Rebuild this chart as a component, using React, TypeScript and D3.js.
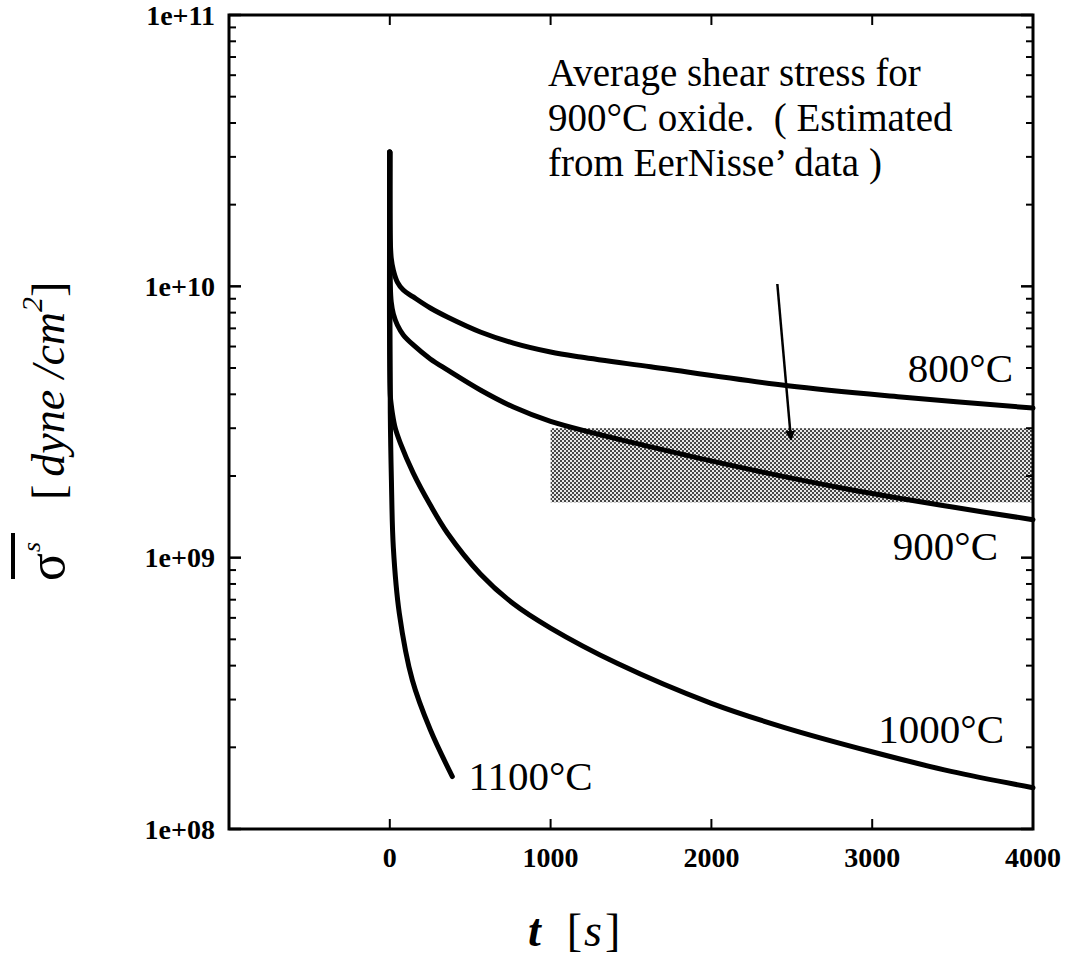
import React from "react";
import * as d3 from "d3";

// ---- data ----
const t800 = [0, 3, 9, 22, 47, 84, 146, 252, 358, 563, 769, 1000, 1187, 1622, 2475, 3179, 4000];
const v800 = [3.13e10, 1.48e10, 1.27e10, 1.148e10, 1.037e10, 9.69e9, 9.14e9, 8.32e9, 7.71e9, 6.79e9, 6.18e9, 5.73e9, 5.49e9, 5.05e9, 4.3e9, 3.91e9, 3.56e9];

const t900 = [0, 3, 9, 22, 47, 84, 146, 252, 358, 563, 769, 1000, 1622, 2245, 2867, 3490, 4000];
const v900 = [3.13e10, 1.011e10, 8.75e9, 7.91e9, 7.2e9, 6.62e9, 6.08e9, 5.4e9, 4.92e9, 4.15e9, 3.59e9, 3.18e9, 2.56e9, 2.11e9, 1.78e9, 1.54e9, 1.38e9];

const t1000 = [0, 3, 9, 16, 34, 65, 146, 252, 358, 563, 769, 1000, 1417, 1996, 2450, 2992, 3490, 4000];
const v1000 = [3.13e10, 3.98e9, 3.66e9, 3.41e9, 3.0e9, 2.65e9, 2.05e9, 1.563e9, 1.233e9, 8.71e8, 6.76e8, 5.5e8, 4.07e8, 2.91e8, 2.37e8, 1.93e8, 1.63e8, 1.42e8];

const t1100 = [0, 3, 10, 22, 59, 140, 252, 389];
const v1100 = [3.13e10, 3.41e9, 1.93e9, 1.09e9, 6.25e8, 3.54e8, 2.32e8, 1.56e8];

const seriesLabels = ["800", "900", "1000", "1100"];
const labelT = [3876, 3783, 3820, 489];
const labelV = [4.44e9, 9.8e8, 2.07e8, 1.39e8];
const labelAnchor = ["end", "end", "end", "start"];

const bandT = [1000, 4000];
const bandV = [1.6e9, 3.0e9];

const arrowT = [2410, 2495];
const arrowV = [1.02e10, 2.72e9];

const noteLines = ["Average shear stress for", "900°C oxide.  ( Estimated", "from EerNisse’ data )"];

const xTicks = [0, 1000, 2000, 3000, 4000];
const yTicks = [1e8, 1e9, 1e10, 1e11];
const yTickLabels = ["1e+08", "1e+09", "1e+10", "1e+11"];

const W = 1073;
const H = 976;
const M = { left: 229, right: 1033, top: 15, bottom: 829 };

export default function App() {
  const x = d3.scaleLinear().domain([-1000, 4000]).range([M.left, M.right]);
  const y = d3.scaleLog().domain([1e8, 1e11]).range([M.bottom, M.top]);

  const line = d3
    .line<[number, number]>()
    .x((d) => x(d[0]))
    .y((d) => y(d[1]))
    .curve(d3.curveCatmullRom.alpha(0.5));

  const series = [
    { t: t800, v: v800 },
    { t: t900, v: v900 },
    { t: t1000, v: v1000 },
    { t: t1100, v: v1100 },
  ];

  const minor: number[] = [];
  for (let e = 8; e < 11; e++) for (let k = 2; k <= 9; k++) minor.push(k * Math.pow(10, e));

  const serif = "'Liberation Serif', 'Times New Roman', serif";

  return (
    <svg width={W} height={H} style={{ position: "absolute", left: 0, top: 0, background: "#fff" }} fontFamily={serif}>
      <defs>
        <pattern id="stip" width="4" height="4" patternUnits="userSpaceOnUse">
          <rect width="4" height="4" fill="#e6e6e6" />
          <rect x="0" y="0" width="2" height="2" fill="#454545" />
          <rect x="2" y="2" width="2" height="2" fill="#454545" />
        </pattern>
        <marker id="ah" viewBox="0 0 10 10" refX="9" refY="5" markerWidth="4" markerHeight="4" orient="auto">
          <path d="M0,0 L10,5 L0,10 z" fill="#000" />
        </marker>
      </defs>

      {/* shaded band */}
      <rect
        x={x(bandT[0])}
        y={y(bandV[1])}
        width={x(bandT[1]) - x(bandT[0])}
        height={y(bandV[0]) - y(bandV[1])}
        fill="url(#stip)"
      />

      {/* curves */}
      {series.map((s, i) => (
        <path
          key={i}
          d={line(s.t.map((t, j) => [t, s.v[j]] as [number, number])) || ""}
          fill="none"
          stroke="#000"
          strokeWidth={5}
          strokeLinecap="round"
          strokeLinejoin="round"
        />
      ))}

      {/* frame */}
      <rect x={M.left} y={M.top} width={M.right - M.left} height={M.bottom - M.top} fill="none" stroke="#000" strokeWidth={3} />

      {/* y ticks */}
      {yTicks.map((v, i) => (
        <g key={"yt" + i}>
          <line x1={M.left} x2={M.left + 12} y1={y(v)} y2={y(v)} stroke="#000" strokeWidth={2.5} />
          <line x1={M.right} x2={M.right - 12} y1={y(v)} y2={y(v)} stroke="#000" strokeWidth={2.5} />
          <text x={215} y={y(v)} dy="0.35em" textAnchor="end" fontWeight="bold" fontSize={28}>
            {yTickLabels[i]}
          </text>
        </g>
      ))}
      {minor.map((v, i) => (
        <g key={"ym" + i}>
          <line x1={M.left} x2={M.left + 7} y1={y(v)} y2={y(v)} stroke="#000" strokeWidth={2} />
          <line x1={M.right} x2={M.right - 7} y1={y(v)} y2={y(v)} stroke="#000" strokeWidth={2} />
        </g>
      ))}

      {/* x ticks */}
      {xTicks.map((t, i) => (
        <g key={"xt" + i}>
          <line x1={x(t)} x2={x(t)} y1={M.bottom} y2={M.bottom - 10} stroke="#000" strokeWidth={2} />
          <line x1={x(t)} x2={x(t)} y1={M.top} y2={M.top + 10} stroke="#000" strokeWidth={2} />
          <text x={x(t)} y={867} textAnchor="middle" fontWeight="bold" fontSize={28}>
            {t}
          </text>
        </g>
      ))}

      {/* series labels */}
      {seriesLabels.map((lab, i) => (
        <text key={"sl" + i} x={x(labelT[i])} y={y(labelV[i])} textAnchor={labelAnchor[i]} fontSize={41}>
          {lab}
          <tspan>°</tspan>C
        </text>
      ))}

      {/* annotation */}
      {noteLines.map((l, i) => (
        <text key={"n" + i} x={548} y={86 + i * 45} fontSize={39} style={{ whiteSpace: "pre" }}>
          {l}
        </text>
      ))}
      <line
        x1={x(arrowT[0])}
        y1={y(arrowV[0])}
        x2={x(arrowT[1])}
        y2={y(arrowV[1])}
        stroke="#000"
        strokeWidth={2.5}
        markerEnd="url(#ah)"
      />

      {/* x title */}
      <text x={528} y={946} fontSize={46}>
        <tspan fontStyle="italic" fontWeight="bold">t</tspan>
        <tspan dx={26}>[</tspan>
        <tspan fontStyle="italic" dx={2}>s</tspan>
        <tspan dx={3}>]</tspan>
      </text>

      {/* y title */}
      <g transform="translate(64,585) rotate(-90)">
        <line x1={6} x2={52} y1={-51} y2={-51} stroke="#000" strokeWidth={4} />
        <text x={4} y={0} fontSize={52}>σ</text>
        <text x={33} y={-24} fontSize={26} fontStyle="italic">s</text>
        <text x={85} y={0} fontSize={46}>
          <tspan>[</tspan>
          <tspan fontStyle="italic" dx={8}>dyne</tspan>
          <tspan fontStyle="italic"> /cm</tspan>
          <tspan fontStyle="italic" fontSize={30} dy={-22}>2</tspan>
          <tspan dy={22}>]</tspan>
        </text>
      </g>
    </svg>
  );
}
